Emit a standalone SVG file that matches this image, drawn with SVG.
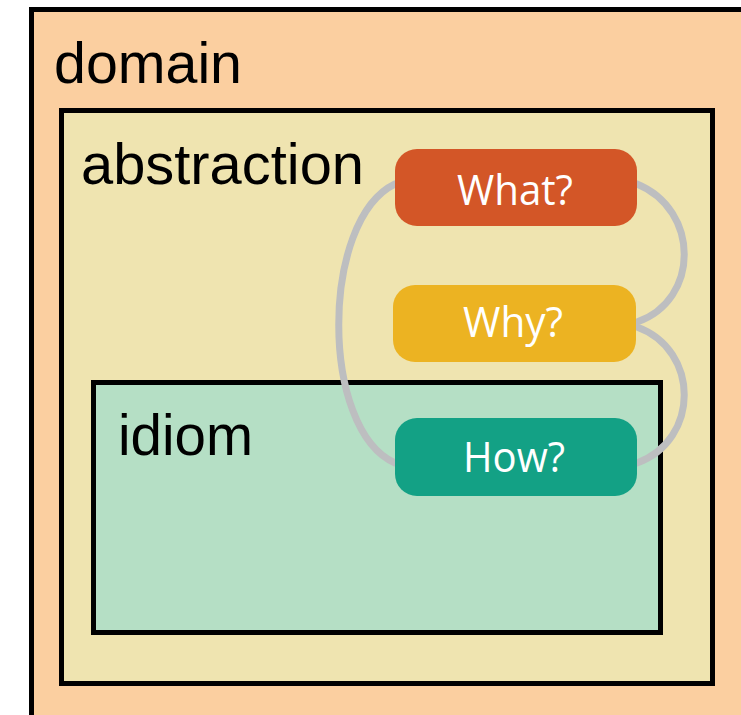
<svg xmlns="http://www.w3.org/2000/svg" width="741" height="715" viewBox="0 0 741 715">
<style>
.box{stroke:#000;stroke-width:5}
.lbl{font-family:"Liberation Sans",Arial,sans-serif;font-size:57.5px;fill:#000}
.q{font-family:"Open Sans","Noto Sans",sans-serif;font-size:42px;fill:#fff;text-anchor:middle}
.edge{fill:none;stroke:#BDBEC0;stroke-width:7;stroke-linecap:round}
</style>
<rect width="741" height="715" fill="#fff"/>
<g id="domain">
<rect class="box" x="31.5" y="9.5" width="730" height="730" fill="#FBCFA0"/>
<text class="lbl" x="54" y="83" textLength="188" lengthAdjust="spacingAndGlyphs">domain</text>
</g>
<g id="abstraction">
<rect class="box" x="61.5" y="110.5" width="651" height="573" fill="#EFE4B0"/>
<text class="lbl" x="81" y="184" textLength="283" lengthAdjust="spacingAndGlyphs">abstraction</text>
</g>
<g id="idiom">
<rect class="box" x="93.5" y="382.5" width="567" height="250" fill="#B5DFC5"/>
<text class="lbl" x="118" y="455" textLength="135" lengthAdjust="spacingAndGlyphs">idiom</text>
</g>
<g id="connectors">
<path class="edge" d="M395,184 C320,220 320,430 395,463"/>
<path class="edge" d="M637,184 C700,210 700,300 637,322"/>
<path class="edge" d="M637,327 C700,350 700,440 637,463"/>
</g>
<g id="what">
<rect x="395" y="149" width="242" height="77" rx="22" fill="#D35627"/>
<text class="q" x="515" y="205" textLength="116" lengthAdjust="spacingAndGlyphs">What?</text>
</g>
<g id="why">
<rect x="393" y="285" width="243" height="77" rx="22" fill="#ECB322"/>
<text class="q" x="513" y="337" textLength="100" lengthAdjust="spacingAndGlyphs">Why?</text>
</g>
<g id="how">
<rect x="395" y="418" width="242" height="78" rx="22" fill="#13A185"/>
<text class="q" x="514" y="472" textLength="102" lengthAdjust="spacingAndGlyphs">How?</text>
</g>
</svg>
